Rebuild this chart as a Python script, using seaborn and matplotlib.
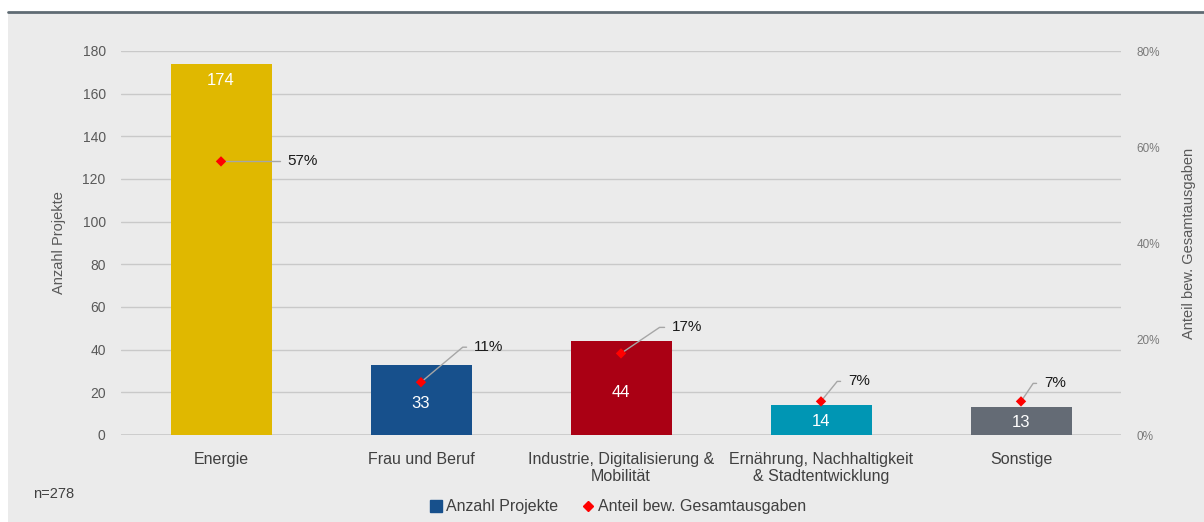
import numpy as np
import pandas as pd
import matplotlib
matplotlib.use("Agg")
import matplotlib.pyplot as plt
from matplotlib.lines import Line2D
from matplotlib.patches import Rectangle
import seaborn as sns

# data
categories = ["Energie", "Frau und Beruf", "Industrie, Digitalisierung &\nMobilität",
              "Ernährung, Nachhaltigkeit\n& Stadtentwicklung", "Sonstige"]
anzahl = [174, 33, 44, 14, 13]
anteil = [0.57, 0.11, 0.17, 0.07, 0.07]
anteil_labels = ["57%", "11%", "17%", "7%", "7%"]
bar_colors = ["#e0b800", "#17508c", "#aa0014", "#0096b4", "#646b75"]

# call-out placement for the percentage labels (pixels, leader angle)
pct_offsets = [(66, 0), (53, 35), (51, 26), (27, 20), (23, 18)]
pct_angles = [50, 40, 34, 51, 56]

sns.set_theme(style="white")
plt.rcParams['font.family'] = ['Liberation Sans', 'DejaVu Sans']

bg = "#ebebeb"
grid_c = "#c9c9c9"
tick_c = "#595959"

df = pd.DataFrame({"kategorie": categories, "anzahl": anzahl, "anteil": anteil})

fig = plt.figure(figsize=(12.04, 5.22), dpi=100)
fig.patch.set_facecolor("white")
fig.add_artist(Rectangle((8 / 1204, 0), 1, 1 - 12 / 522, transform=fig.transFigure,
                         facecolor=bg, edgecolor="none", zorder=-10))
fig.add_artist(Line2D([8 / 1204, 1], [1 - 12 / 522] * 2, transform=fig.transFigure,
                      color="#5f6b73", lw=2))

ax = fig.add_axes([121 / 1204, 1 - 435 / 522, 1000 / 1204, 384 / 522])
ax.set_facecolor("none")
sns.barplot(data=df, x="kategorie", y="anzahl", hue="kategorie", palette=bar_colors,
            width=0.505, saturation=1, legend=False, ax=ax, zorder=3, linewidth=0)
ax.set_xlim(-0.5, 4.5)
ax.set_ylim(0, 180)
ax.set_yticks(range(0, 181, 20))
ax.yaxis.grid(True, color=grid_c, lw=1)
ax.set_axisbelow(True)
for s in ax.spines.values():
    s.set_visible(False)
ax.axhline(0, color=grid_c, lw=1.2, zorder=2)
ax.tick_params(axis="y", length=0, pad=11, labelsize=10, labelcolor=tick_c)
ax.tick_params(axis="x", length=0, pad=12, labelsize=11.5, labelcolor="#404040")
ax.set_xlabel("")
ax.set_ylabel("Anzahl Projekte", fontsize=10.5, color=tick_c, labelpad=12)

# bar value labels
for i, v in enumerate(anzahl):
    y = v - 8 if v > 100 else v * 0.45
    ax.text(i, y, str(v), ha="center", va="center", color="white", fontsize=12, zorder=4)

ax2 = ax.twinx()
ax2.set_ylim(0, 0.8)
ax2.set_yticks([0, 0.2, 0.4, 0.6, 0.8])
ax2.set_yticklabels(["0%", "20%", "40%", "60%", "80%"])
for s in ax2.spines.values():
    s.set_visible(False)
ax2.tick_params(axis="y", length=0, pad=11, labelsize=8.5, labelcolor="#7a7a7a")
ax2.set_ylabel("Anteil bew. Gesamtausgaben", fontsize=10.5, color=tick_c, labelpad=16)
sns.scatterplot(x=np.arange(len(anteil)), y=anteil, marker="D", color="#ff0000",
                s=28, edgecolor="none", ax=ax2, zorder=5)

for i, (p, lab, off, ang) in enumerate(zip(anteil, anteil_labels, pct_offsets, pct_angles)):
    ax2.annotate(lab, xy=(i, p), xytext=off, textcoords="offset pixels",
                 ha="left", va="center", fontsize=11, color="#1a1a1a",
                 arrowprops=dict(arrowstyle="-", color="#a6a6a6", lw=1,
                                 shrinkA=3, shrinkB=0,
                                 connectionstyle=f"angle,angleA=0,angleB={ang},rad=0"))

handles = [Line2D([], [], marker="s", color="#17508c", linestyle="none", markersize=8),
           Line2D([], [], marker="D", color="#ff0000", linestyle="none", markersize=5)]
fig.legend(handles, ["Anzahl Projekte", "Anteil bew. Gesamtausgaben"], loc="center",
           bbox_to_anchor=(617 / 1204, 1 - 507 / 522), ncol=2, frameon=False,
           fontsize=11.5, handletextpad=0.1, columnspacing=1.4, handlelength=1.0,
           labelcolor="#404040")
fig.text(33 / 1204, 1 - 494 / 522, "n=278", fontsize=10.5, color="#404040", va="center")

fig.savefig("out.png", dpi=100, facecolor=fig.get_facecolor())
